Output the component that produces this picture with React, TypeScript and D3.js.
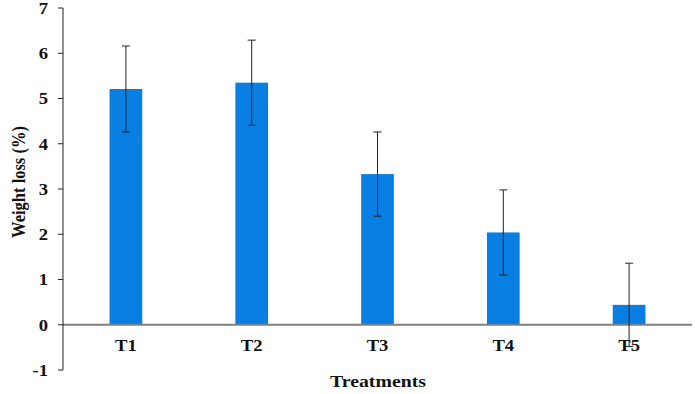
import React from 'react';
import * as d3 from 'd3';

const treatments = ['T1', 'T2', 'T3', 'T4', 'T5'];
const weightLoss = [5.21, 5.35, 3.33, 2.04, 0.44];
const errors = [0.95, 0.94, 0.93, 0.94, 0.92];
const yTicks = [-1, 0, 1, 2, 3, 4, 5, 6, 7];

const W = 695;
const H = 394;
const margin = { left: 63, right: 3, top: 8, bottom: 24 };

// the reference text looks a little stretched sideways
const stretch = 1.13;

export default function App() {
  const x = d3
    .scaleBand<string>()
    .domain(treatments)
    .range([margin.left, W - margin.right])
    .paddingInner(0.74)
    .paddingOuter(0.37);

  const y = d3.scaleLinear().domain([-1, 7]).range([H - margin.bottom, margin.top]);

  const font = '"Liberation Serif", "Times New Roman", serif';

  return (
    <div style={{ position: 'absolute', left: 0, top: 0 }}>
      <svg width={W} height={H} style={{ display: 'block', fontFamily: font }}>
        {/* bars */}
        {treatments.map((t, i) => (
          <rect
            key={t}
            x={x(t)}
            y={y(weightLoss[i])}
            width={x.bandwidth()}
            height={y(0) - y(weightLoss[i])}
            fill="#0a7fe3"
          />
        ))}

        {/* zero line */}
        <line x1={margin.left} x2={W - margin.right} y1={y(0)} y2={y(0)} stroke="#7f7f7f" strokeWidth={2} />

        {/* error bars */}
        {treatments.map((t, i) => {
          const cx = (x(t) as number) + x.bandwidth() / 2;
          const hi = y(weightLoss[i] + errors[i]);
          const lo = y(weightLoss[i] - errors[i]);
          return (
            <g key={t} stroke="#222" strokeWidth={1}>
              <line x1={cx} x2={cx} y1={hi} y2={lo} />
              <line x1={cx - 4} x2={cx + 4} y1={hi} y2={hi} />
              <line x1={cx - 4} x2={cx + 4} y1={lo} y2={lo} />
            </g>
          );
        })}

        {/* y axis */}
        <line x1={margin.left} x2={margin.left} y1={y(7)} y2={y(-1)} stroke="#222" strokeWidth={1} />
        {yTicks.map((v) => (
          <g key={v}>
            <line x1={margin.left - 5} x2={margin.left} y1={y(v)} y2={y(v)} stroke="#222" strokeWidth={1} />
            <text
              transform={`translate(${margin.left - 15},${y(v)}) scale(${stretch},1)`}
              dy="0.35em"
              textAnchor="end"
              fontSize={16.5}
              fontWeight="bold"
              fill="#111"
            >
              {v}
            </text>
          </g>
        ))}

        {/* category labels */}
        {treatments.map((t) => (
          <text
            key={t}
            transform={`translate(${(x(t) as number) + x.bandwidth() / 2},${y(0) + 26}) scale(${stretch},1)`}
            textAnchor="middle"
            fontSize={16.5}
            fontWeight="bold"
            fill="#111"
          >
            {t}
          </text>
        ))}

        {/* axis titles */}
        <text
          transform={`translate(25,182) rotate(-90) scale(1,${stretch})`}
          textAnchor="middle"
          fontSize={16.5}
          fontWeight="bold"
          fill="#111"
        >
          Weight loss (%)
        </text>
        <text
          transform={`translate(378,387) scale(${stretch},1)`}
          textAnchor="middle"
          fontSize={17.5}
          fontWeight="bold"
          fill="#111"
        >
          Treatments
        </text>
      </svg>
    </div>
  );
}
